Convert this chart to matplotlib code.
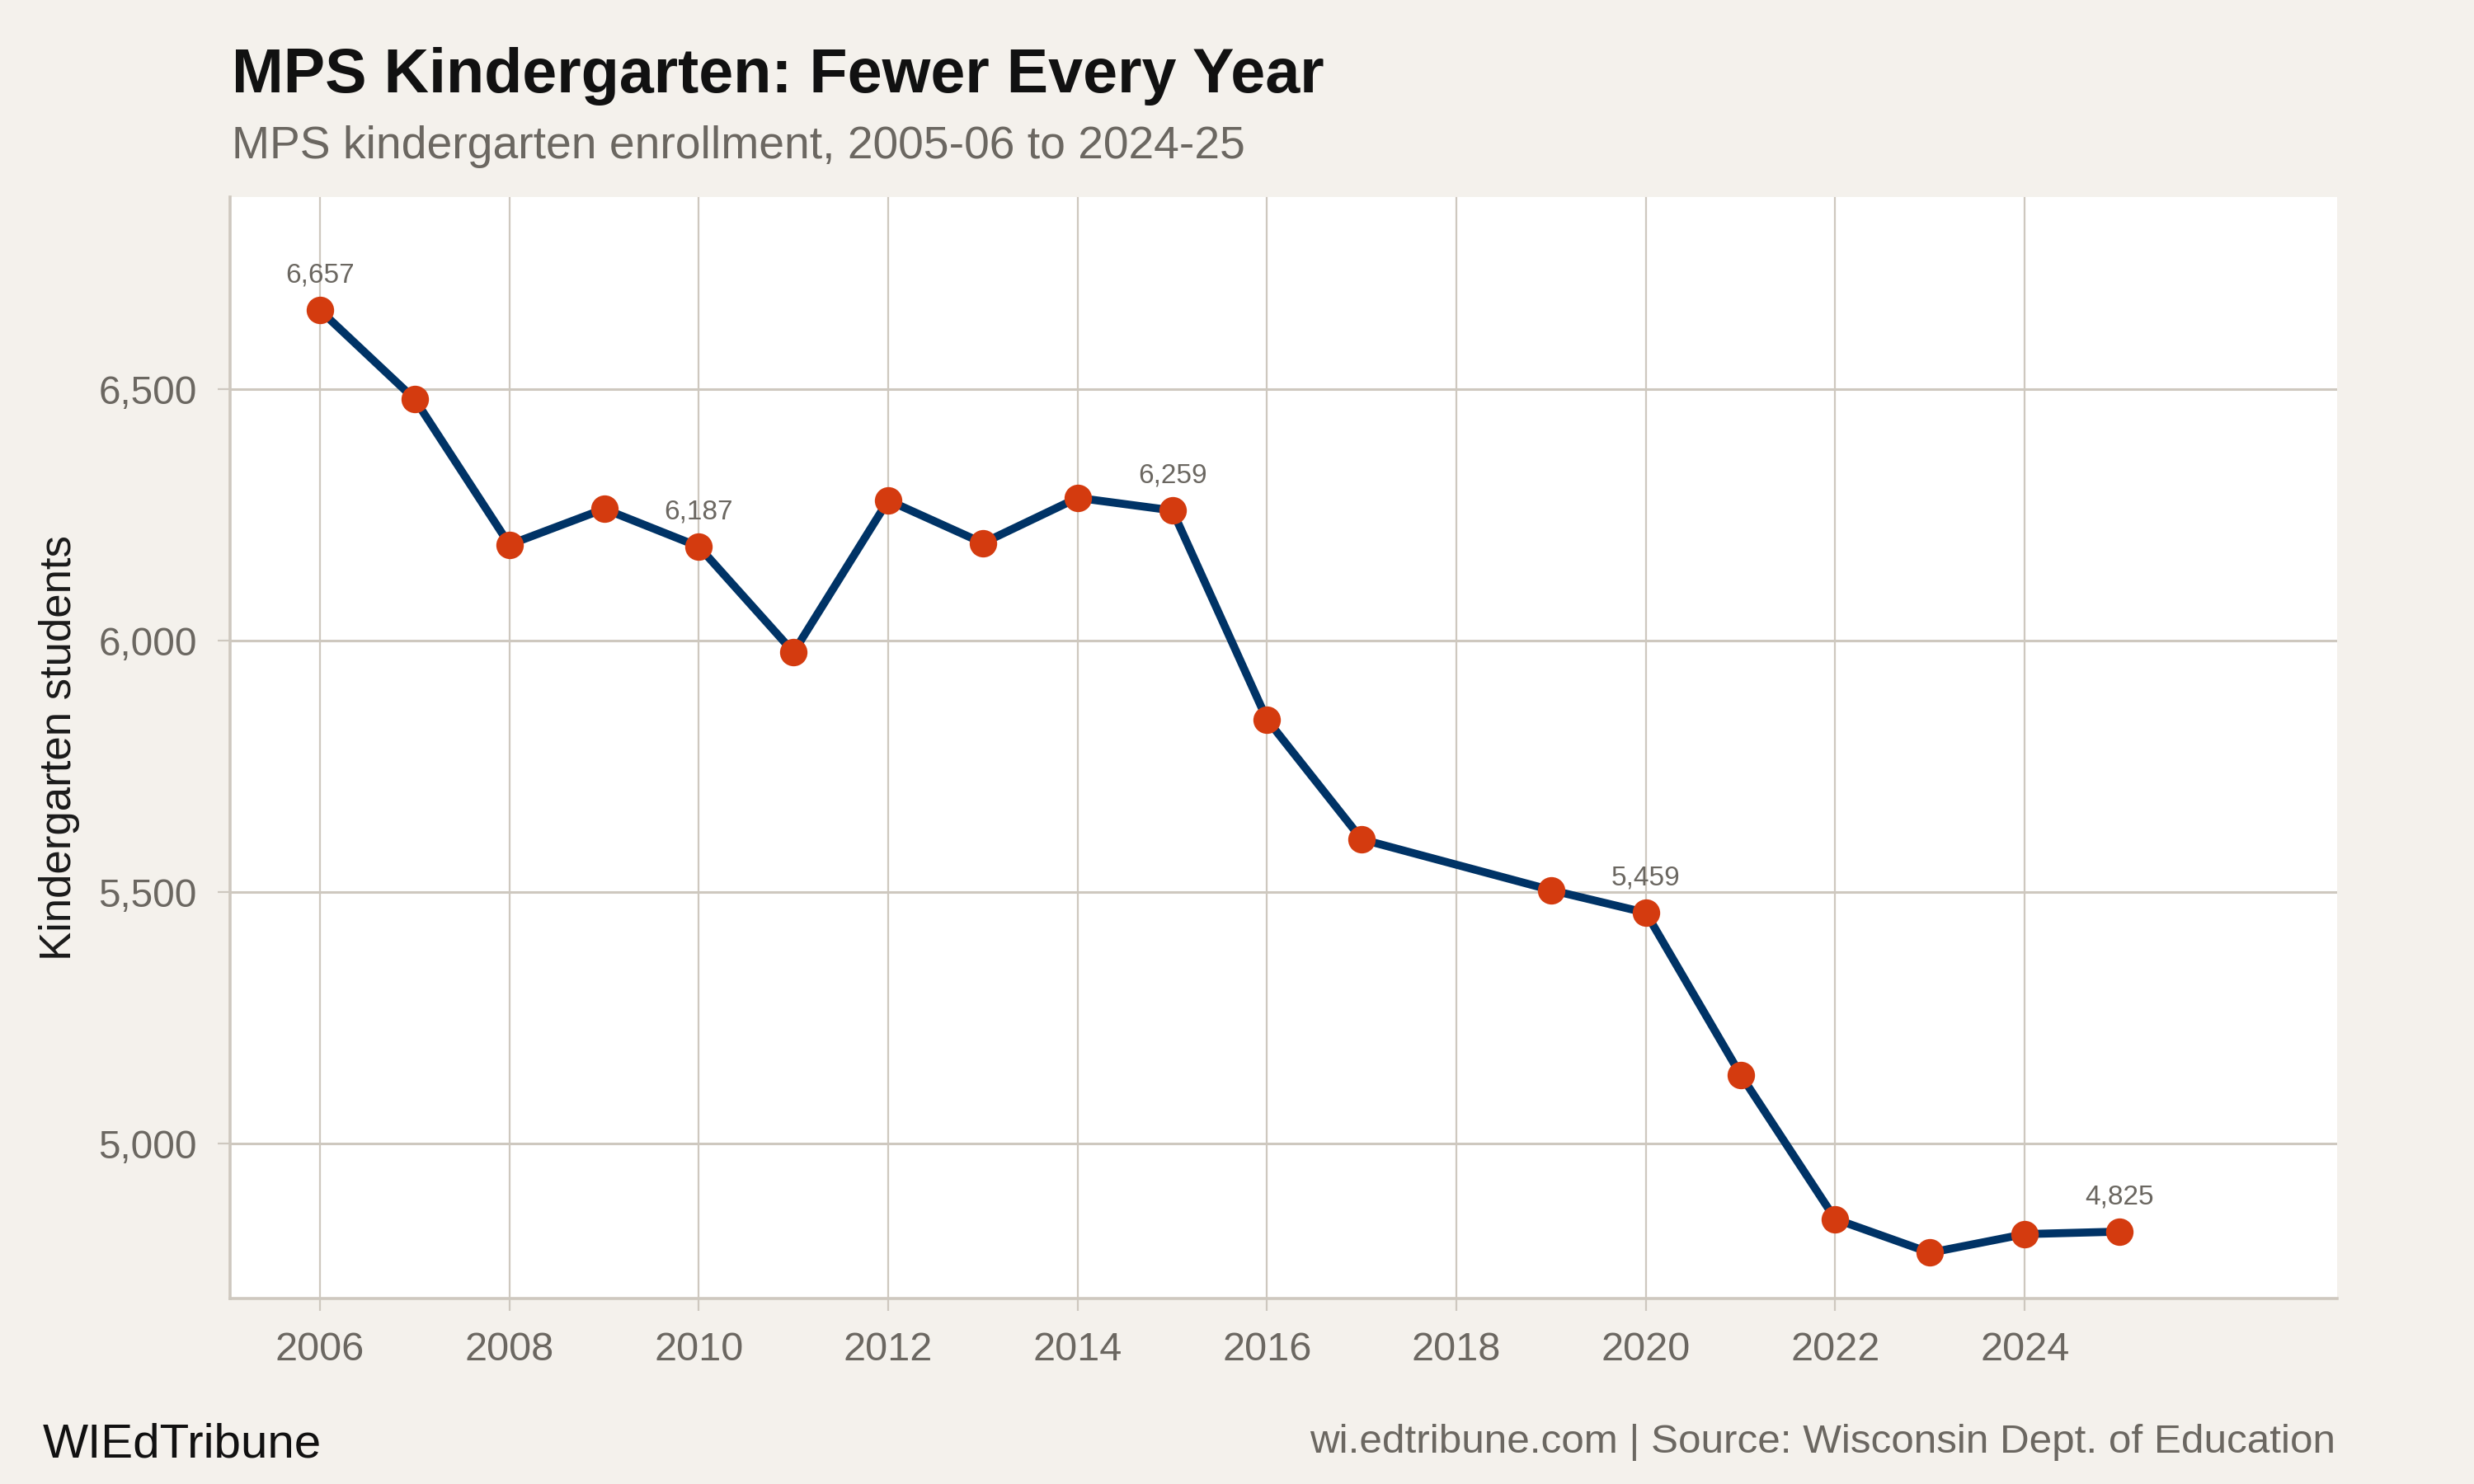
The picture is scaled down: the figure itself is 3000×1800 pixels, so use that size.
import matplotlib
matplotlib.use("Agg")
import matplotlib.pyplot as plt
from matplotlib.ticker import FuncFormatter

# MPS kindergarten enrollment (school year ending), 2018 not reported
years = [2006, 2007, 2008, 2009, 2010, 2011, 2012, 2013, 2014, 2015,
         2016, 2017, 2019, 2020, 2021, 2022, 2023, 2024, 2025]
enrollment = [6657, 6480, 6191, 6262, 6187, 5977, 6279, 6194, 6284, 6259,
              5843, 5605, 5504, 5459, 5137, 4850, 4783, 4820, 4825]
labeled_years = [2006, 2010, 2015, 2020, 2025]

x_ticks = list(range(2006, 2025, 2))
y_ticks = [5000, 5500, 6000, 6500]

BG = "#F4F1EC"
GRID = "#CEC8BF"
NAVY = "#003366"
ORANGE = "#D43B0F"
GRAY = "#6B6761"

plt.rcParams["font.family"] = ["Liberation Sans", "DejaVu Sans"]

fig = plt.figure(figsize=(15, 9), dpi=200, facecolor=BG)
ax = fig.add_axes([0.093, 0.125, 0.8517, 0.7422])
ax.set_facecolor("white")

ax.plot(years, enrollment, color=NAVY, linewidth=3.5, zorder=3,
        solid_joinstyle="round", solid_capstyle="round")
ax.plot(years, enrollment, "o", color=ORANGE, markersize=12,
        markeredgewidth=0, zorder=4)

for yr, val in zip(years, enrollment):
    if yr in labeled_years:
        ax.annotate(f"{val:,}", (yr, val), textcoords="offset points",
                    xytext=(0, 9.5), ha="center", va="bottom",
                    fontsize=12, color=GRAY, zorder=5)

ax.set_xlim(2005.05, 2027.3)
ax.set_ylim(4692, 6882)
ax.set_xticks(x_ticks)
ax.set_yticks(y_ticks)
ax.yaxis.set_major_formatter(FuncFormatter(lambda v, p: f"{int(v):,}"))

ax.grid(axis="x", color=GRID, linewidth=0.8, zorder=1)
ax.grid(axis="y", color=GRID, linewidth=1.1, zorder=1)
ax.set_axisbelow(True)

for side in ["top", "right"]:
    ax.spines[side].set_visible(False)
for side in ["left", "bottom"]:
    ax.spines[side].set_color(GRID)
    ax.spines[side].set_linewidth(1.3)

ax.tick_params(axis="x", colors=GRID, length=5.5, width=0.8, pad=9,
               labelsize=17.5, labelcolor=GRAY)
ax.tick_params(axis="y", colors=GRID, length=5.5, width=0.8, pad=9,
               labelsize=17.2, labelcolor=GRAY)

ax.set_ylabel("Kindergarten students", fontsize=19, color="#1A1A1A", labelpad=8)

fig.text(0.0937, 0.9378, "MPS Kindergarten: Fewer Every Year", fontsize=27.2,
         fontweight="bold", color="#111111", va="baseline", ha="left")
fig.text(0.0937, 0.8933, "MPS kindergarten enrollment, 2005-06 to 2024-25",
         fontsize=19.9, color=GRAY, va="baseline", ha="left")

fig.text(0.0173, 0.0183, "WIEdTribune", fontsize=21, color="#111111",
         va="baseline", ha="left")
fig.text(0.944, 0.021,
         "wi.edtribune.com | Source: Wisconsin Dept. of Education",
         fontsize=17.8, color=GRAY, va="baseline", ha="right")

fig.savefig("out.png", dpi=200, facecolor=BG)
plt.close(fig)
